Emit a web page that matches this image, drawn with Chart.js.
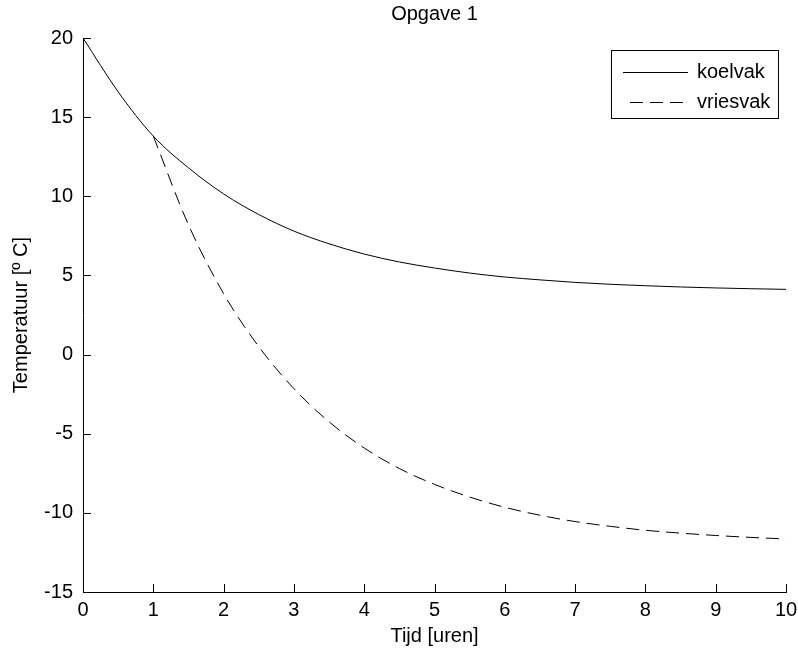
<!DOCTYPE html>
<html>
<head>
<meta charset="utf-8">
<title>Opgave 1</title>
<script src="https://cdn.jsdelivr.net/npm/chart.js@4"></script>
<style>
  body { margin: 0; background: #fff; }
  #wrap { width: 798px; height: 654px; position: relative; }
</style>
</head>
<body>
<div id="wrap"><canvas id="tempChart"></canvas></div>
<script>
// data
const times = [0, 0.5, 1, 1.5, 2, 2.5, 3, 3.5, 4, 4.5, 5, 5.5, 6, 6.5, 7, 7.5, 8, 8.5, 9, 9.5, 10];
const koelvak = [20, 16.6, 13.8, 11.8, 10.15, 8.85, 7.8, 7.0, 6.35, 5.85, 5.47, 5.15, 4.9, 4.72, 4.56, 4.44, 4.35, 4.27, 4.21, 4.16, 4.12];
const vriesTimes = [1, 1.5, 2, 2.5, 3, 3.5, 4, 4.5, 5, 5.5, 6, 6.5, 7, 7.5, 8, 8.5, 9, 9.5, 10];
const vriesvak = [13.8, 8.2, 3.85, 0.5, -2.15, -4.25, -5.9, -7.2, -8.2, -9.0, -9.65, -10.15, -10.55, -10.85, -11.1, -11.28, -11.43, -11.55, -11.65];
const xTicks = [0, 1, 2, 3, 4, 5, 6, 7, 8, 9, 10];
const yTicks = [-15, -10, -5, 0, 5, 10, 15, 20];
const titleText = "Opgave 1";

const FONT = "'Liberation Sans', Arial, sans-serif";

// inward tick marks, matlab style, plus title centred over the axes
const innerTicks = {
  id: "innerTicks",
  afterDraw(chart) {
    const { ctx, chartArea, scales } = chart;
    ctx.save();
    ctx.strokeStyle = "#000";
    ctx.lineWidth = 1;
    ctx.beginPath();
    scales.x.ticks.forEach(t => {
      const x = Math.round(scales.x.getPixelForValue(t.value)) + 0.5;
      ctx.moveTo(x, chartArea.bottom);
      ctx.lineTo(x, chartArea.bottom - 8);
    });
    scales.y.ticks.forEach(t => {
      const y = Math.round(scales.y.getPixelForValue(t.value)) + 0.5;
      ctx.moveTo(chartArea.left, y);
      ctx.lineTo(chartArea.left + 8, y);
    });
    ctx.stroke();

    ctx.fillStyle = "#000";
    ctx.font = "20px " + FONT;
    ctx.textAlign = "center";
    ctx.textBaseline = "middle";
    ctx.fillText(titleText, (chartArea.left + chartArea.right) / 2, 14);
    ctx.restore();
  }
};

// boxed legend in the top right corner
const boxLegend = {
  id: "boxLegend",
  afterDraw(chart) {
    const { ctx } = chart;
    const left = 611, top = 50, right = 778, bottom = 118;
    ctx.save();
    ctx.fillStyle = "#fff";
    ctx.fillRect(left, top, right - left, bottom - top);
    ctx.strokeStyle = "#000";
    ctx.lineWidth = 1;
    ctx.strokeRect(left + 0.5, top + 0.5, right - left, bottom - top);
    ctx.font = "20px " + FONT;
    ctx.textBaseline = "middle";
    chart.data.datasets.forEach((ds, i) => {
      const y = Math.round(72 + i * 30) + 0.5;
      ctx.beginPath();
      ctx.setLineDash(ds.borderDash || []);
      ctx.strokeStyle = ds.borderColor;
      ctx.lineWidth = ds.borderWidth;
      ctx.moveTo(ds.borderDash ? 630 : 623, y);
      ctx.lineTo(688, y);
      ctx.stroke();
      ctx.setLineDash([]);
      ctx.fillStyle = "#000";
      ctx.fillText(ds.label, 697, y);
    });
    ctx.restore();
  }
};

const ctx = document.getElementById("tempChart").getContext("2d");

new Chart(ctx, {
  type: "line",
  data: {
    datasets: [
      {
        label: "koelvak",
        data: times.map((t, i) => ({ x: t, y: koelvak[i] })),
        borderColor: "#000",
        borderWidth: 1,
        pointRadius: 0,
        cubicInterpolationMode: "monotone"
      },
      {
        label: "vriesvak",
        data: vriesTimes.map((t, i) => ({ x: t, y: vriesvak[i] })),
        borderColor: "#000",
        borderWidth: 1,
        borderDash: [13, 7],
        pointRadius: 0,
        cubicInterpolationMode: "monotone"
      }
    ]
  },
  options: {
    responsive: true,
    maintainAspectRatio: false,
    animation: false,
    layout: { padding: { top: 38, right: 12, bottom: 0, left: 0 } },
    plugins: {
      legend: { display: false },
      tooltip: { enabled: false },
      title: { display: false }
    },
    scales: {
      x: {
        type: "linear",
        min: 0,
        max: 10,
        afterBuildTicks: s => { s.ticks = xTicks.map(v => ({ value: v })); },
        afterFit: s => { s.height = 62; s.paddingLeft = 0; s.paddingRight = 0; },
        grid: { display: false, drawTicks: false },
        border: { display: true, color: "#000", width: 1 },
        ticks: { color: "#000", padding: 6, maxRotation: 0, font: { family: FONT, size: 20 } },
        title: {
          display: true,
          text: "Tijd [uren]",
          color: "#000",
          font: { family: FONT, size: 20 },
          padding: { top: 0, bottom: 6 }
        }
      },
      y: {
        min: -15,
        max: 20,
        afterBuildTicks: s => { s.ticks = yTicks.map(v => ({ value: v })); },
        afterFit: s => { s.width = 83; s.paddingTop = 0; s.paddingBottom = 0; },
        grid: { display: false, drawTicks: false },
        border: { display: true, color: "#000", width: 1 },
        ticks: { color: "#000", padding: 10, font: { family: FONT, size: 20 } },
        title: {
          display: true,
          text: "Temperatuur [º C]",
          color: "#000",
          font: { family: FONT, size: 20 },
          padding: { top: 9, bottom: 0 }
        }
      }
    }
  },
  plugins: [innerTicks, boxLegend]
});
</script>
</body>
</html>
